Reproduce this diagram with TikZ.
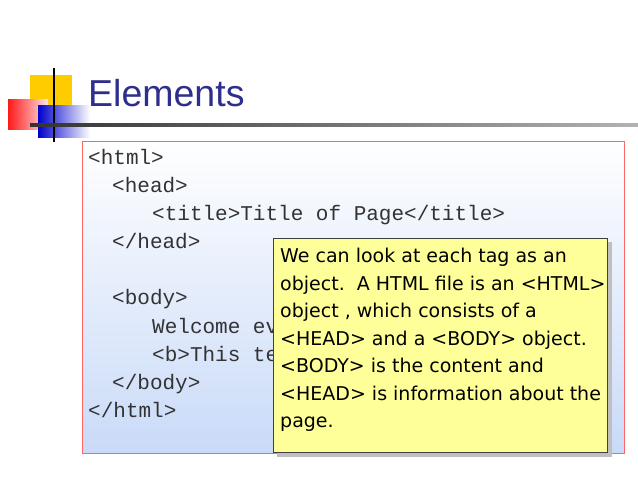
\documentclass[tikz,border=0pt]{standalone}
\usepackage{fontspec}
\setmainfont{Liberation Sans}
\newfontfamily\codefont{Liberation Mono}
\newfontfamily\notefont{DejaVu Sans}
\definecolor{titleblue}{HTML}{2E2E8C}
\definecolor{notey}{HTML}{FFFF99}
\definecolor{boxblue}{HTML}{C9DAF8}
\definecolor{logoy}{HTML}{FFCC00}
\tikzset{
  code/.style={anchor=base west,inner sep=0,font=\codefont\fontsize{21}{22}\selectfont,text=black!80},
  note/.style={anchor=base west,inner sep=0,font=\notefont\fontsize{19}{21}\selectfont},
}
\begin{document}
\begin{tikzpicture}[x=1pt,y=-1pt]
\useasboundingbox (0,0) rectangle (638,478);
% logo
\fill[logoy] (30,75) rectangle (72,118);
\shade[left color=red!90, right color=red!10] (8,100) rectangle (48,130);
\shade[left color=blue!80!black, right color=white] (38,106) rectangle (90,138);
\draw[line width=1.3pt] (54,68) -- (54,142);
\shade[left color=black!80, right color=black!30] (30,124) rectangle (638,126.5);
\node[anchor=base west,inner sep=0,font=\fontsize{37.5}{40}\selectfont,text=titleblue] (title) at (88,107) {Elements};
% code box
\shade[top color=white, bottom color=boxblue] (82,141) rectangle (624,453);
\draw[red!60,line width=0.6pt] (82,141) rectangle (624,453);
\node[code] (l1) at (88,165) {<html>};
\node[code] (l2) at (112,193) {<head>};
\node[code] (l3) at (152,221) {<title>Title of Page</title>};
\node[code] (l4) at (112,249) {</head>};
\node[code] (l5) at (112,305) {<body>};
\node[code] (l6) at (152,334) {Welcome everyone!};
\node[code] (l7) at (152,362) {<b>This text is bold</b>};
\node[code] (l8) at (112,390) {</body>};
\node[code] (l9) at (88,418) {</html>};
% note
\fill[black!25] (277,242) rectangle (612,457);
\draw[fill=notey,draw=black!75,line width=0.7pt] (273,238) rectangle (607,452);
\node[note] (n1) at (280,263) {We can look at each tag as an};
\node[note] (n2) at (280,291) {object.\ \ A HTML file is an <HTML>};
\node[note] (n3) at (280,318) {object , which consists of a};
\node[note] (n4) at (280,346) {<HEAD> and a <BODY> object.};
\node[note] (n5) at (280,373) {<BODY> is the content and};
\node[note] (n6) at (280,401) {<HEAD> is information about the};
\node[note] (n7) at (280,428) {page.};
\end{tikzpicture}
\end{document}
